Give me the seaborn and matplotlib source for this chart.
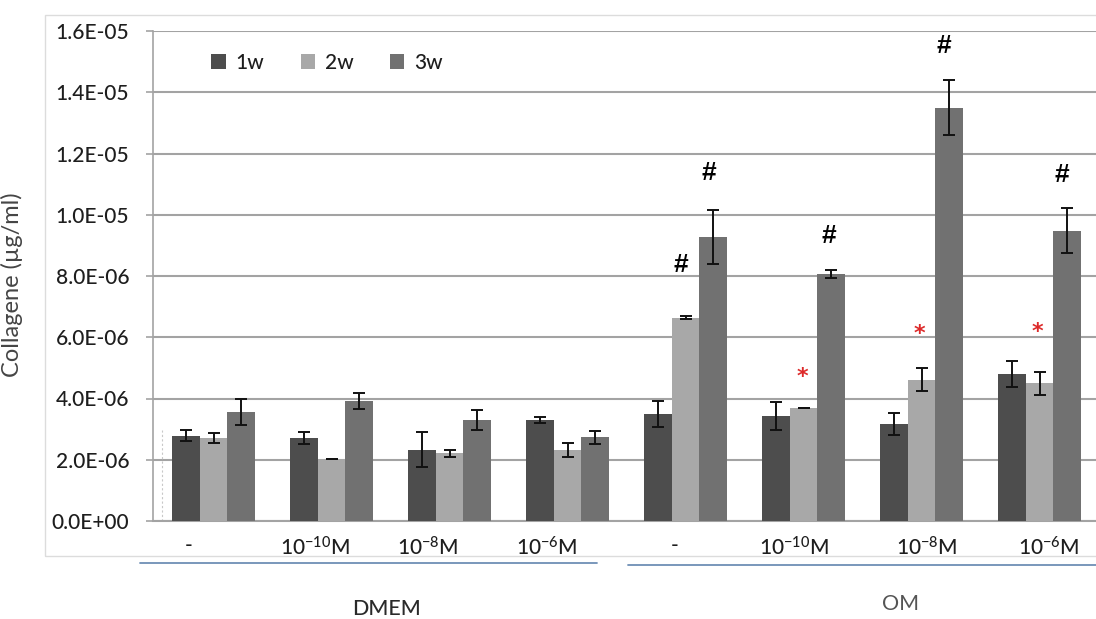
import matplotlib
matplotlib.use("Agg")
import matplotlib.pyplot as plt
import matplotlib.transforms as mtransforms
from matplotlib.lines import Line2D
from matplotlib.patches import Rectangle
from matplotlib.ticker import FuncFormatter, MultipleLocator
import seaborn as sns
import pandas as pd
import numpy as np

# ---------------- data ----------------
categories = ["DMEM -", "DMEM 1e-10", "DMEM 1e-8", "DMEM 1e-6",
              "OM -", "OM 1e-10", "OM 1e-8", "OM 1e-6"]
tick_labels = ["-", "10$^{-10}$M", "10$^{-8}$M", "10$^{-6}$M",
               "-", "10$^{-10}$M", "10$^{-8}$M", "10$^{-6}$M"]
group_labels = ["DMEM", "OM"]
series = ["1w", "2w", "3w"]

w1 = [2.79e-6, 2.71e-6, 2.33e-6, 3.30e-6, 3.49e-6, 3.42e-6, 3.17e-6, 4.81e-6]
w1_err = [0.17e-6, 0.19e-6, 0.57e-6, 0.10e-6, 0.43e-6, 0.46e-6, 0.35e-6, 0.42e-6]
w2 = [2.71e-6, 2.03e-6, 2.21e-6, 2.32e-6, 6.63e-6, 3.69e-6, 4.62e-6, 4.49e-6]
w2_err = [0.16e-6, 0.01e-6, 0.11e-6, 0.23e-6, 0.05e-6, 0.01e-6, 0.36e-6, 0.37e-6]
w3 = [3.55e-6, 3.93e-6, 3.30e-6, 2.73e-6, 9.28e-6, 8.08e-6, 13.50e-6, 9.48e-6]
w3_err = [0.42e-6, 0.26e-6, 0.33e-6, 0.22e-6, 0.88e-6, 0.13e-6, 0.90e-6, 0.73e-6]

# significance marks: (category index, series index, symbol)
marks = [(4, 1, "#"), (4, 2, "#"), (5, 2, "#"), (6, 2, "#"), (7, 2, "#"),
         (5, 1, "*"), (6, 1, "*"), (7, 1, "*")]

# ---------------- style ----------------
mark_offsets_px = [(-5, 51), (-4, 37), (-2, 34), (-5, 34), (-5, 33),
                   (-1, 31), (-2, 34), (-2, 40)]
label_shift_px = [-25, -17, -22, -21, -11, -10, 5, 9]
colors = ["#4d4d4d", "#a8a8a8", "#717171"]
grid_color = "#a3a3a3"

sns.set_theme(style="white")
plt.rcParams["font.family"] = ["Lato", "DejaVu Sans"]
plt.rcParams["font.weight"] = "medium"
plt.rcParams["mathtext.fontset"] = "custom"
plt.rcParams["mathtext.rm"] = "Lato:medium"
plt.rcParams["mathtext.it"] = "Lato:italic"
plt.rcParams["mathtext.bf"] = "Lato:bold"

W, H = 1096, 619
fig = plt.figure(figsize=(W / 100, H / 100), dpi=100)
ax = fig.add_axes([153 / W, (H - 521) / H, 1 - 153 / W, (521 - 31) / H])

df = pd.DataFrame({
    "cond": categories * 3,
    "week": np.repeat(series, len(categories)),
    "value": np.concatenate([w1, w2, w3]),
})

sns.barplot(data=df, x="cond", y="value", hue="week", order=categories,
            hue_order=series, palette=colors, width=0.70, errorbar=None,
            saturation=1, linewidth=0, ax=ax, zorder=3)

errs = [w1_err, w2_err, w3_err]
bar_x = []
bar_top = []
for cont, err in zip(ax.containers, errs):
    xs = [p.get_x() + p.get_width() / 2 for p in cont.patches]
    hs = [p.get_height() for p in cont.patches]
    bar_x.append(xs)
    bar_top.append([h + e for h, e in zip(hs, err)])
    ax.errorbar(xs, hs, yerr=err, fmt="none", ecolor="#111111",
                elinewidth=1.4, capsize=4, capthick=1.4, zorder=4)

# marks
for (ci, si, sym), (dx, dy) in zip(marks, mark_offsets_px):
    if sym == "#":
        kw = dict(color="black", fontsize=19, fontweight="bold",
                  family=["Liberation Sans", "DejaVu Sans"])
    else:
        kw = dict(color="#dd2a2a", fontsize=16, fontweight="bold",
                  family=["DejaVu Sans"])
    ax.annotate(sym, xy=(bar_x[si][ci], bar_top[si][ci]),
                xytext=(dx * 0.72, dy * 0.72), textcoords="offset points",
                ha="center", va="center", zorder=5, **kw)

# axes
ax.set_ylim(0, 1.6e-5)
ax.set_xlim(-0.514, 7.478)
ax.yaxis.set_major_locator(MultipleLocator(2e-6))
ax.yaxis.set_major_formatter(FuncFormatter(lambda v, p: f"{v:.1E}"))
ax.grid(axis="y", color=grid_color, linewidth=1.5, zorder=0)
ax.set_axisbelow(True)
for s in ["top", "right"]:
    ax.spines[s].set_visible(False)
ax.spines["left"].set_color(grid_color)
ax.spines["left"].set_linewidth(1.2)
ax.spines["bottom"].set_color(grid_color)
ax.spines["bottom"].set_linewidth(1.5)

ax.tick_params(axis="y", which="major", left=True, length=5, width=1.2,
               color=grid_color, pad=12, labelsize=15, labelcolor="#1e1e1e")
ax.tick_params(axis="x", bottom=False, pad=5, labelsize=15,
               labelcolor="#1e1e1e")
ax.set_xticks(range(len(categories)))
ax.set_xticklabels(tick_labels)
for lab, dx in zip(ax.get_xticklabels(), label_shift_px):
    lab.set_transform(lab.get_transform() +
                      mtransforms.ScaledTranslation(dx / 100, 0, fig.dpi_scale_trans))

ax.set_xlabel("")
ax.set_ylabel("Collagene (µg/ml)", fontsize=17, color="#454545",
              fontweight="normal")
ax.yaxis.set_label_coords((23 - 153) / (W - 153), (521 - 285) / (521 - 31))

# faint dotted line near axis
ax.plot([0.0092, 0.0092], [0, 0.186], transform=ax.transAxes, ls=(0, (2, 2)),
        color="#c8c8c8", lw=0.8, zorder=1)

# legend
leg = ax.get_legend()
handles = leg.legend_handles
labels = [t.get_text() for t in leg.texts]
leg.remove()
ax.legend(handles, labels, ncol=3, frameon=False, loc="center left",
          bbox_to_anchor=((201 - 153) / (W - 153), (521 - 63) / (521 - 31)),
          borderpad=0, handlelength=0.7, handleheight=0.7,
          handletextpad=0.45, columnspacing=1.75, fontsize=15,
          labelcolor="#1e1e1e")

# chart-area frame
fig.patches.append(Rectangle((45 / W, (H - 556) / H), 1.2, (556 - 15) / H,
                             transform=fig.transFigure, fill=False,
                             edgecolor="#dcdcdc", lw=1.0))

# group separator lines and group labels
fig.add_artist(Line2D([140 / W, 597 / W], [(H - 563) / H] * 2,
                      color="#6e8fb5", lw=1.3))
fig.add_artist(Line2D([628 / W, 1.0], [(H - 565) / H] * 2,
                      color="#6e8fb5", lw=1.3))
fig.text(386 / W, (H - 609) / H, group_labels[0], ha="center", va="center",
         fontsize=15.5, color="#2a2a2a")
fig.text(901 / W, (H - 604.5) / H, group_labels[1], ha="center", va="center",
         fontsize=15.5, color="#555555", fontweight="normal")

fig.savefig("out.png", dpi=100)
